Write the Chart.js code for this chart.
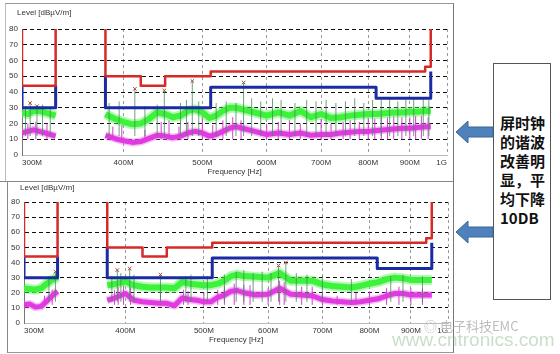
<!DOCTYPE html>
<html>
<head>
<meta charset="utf-8">
<script src="https://cdn.jsdelivr.net/npm/chart.js@4.4.1/dist/chart.umd.min.js"></script>
<style>
  body { margin: 0; background: #fff; width: 560px; height: 354px; position: relative; overflow: hidden;
         font-family: "Liberation Sans", Arial, sans-serif; }
  .abs { position: absolute; }
  .ylab { font-size: 8px; color: #333; white-space: nowrap; }
  .note { left: 500px; top: 113px; width: 50px; font: bold 15px/19px "Noto Sans CJK SC", sans-serif; color: #111; }
</style>
</head>
<body>
<div class="abs" style="left:5px;top:3px;width:447px;height:177px;border-top:1px solid #999;border-left:1px solid #bbb;border-right:1px solid #777;"></div>
<div class="abs" style="left:0;top:181px;width:453px;height:0;border-top:1px solid #888;"></div>
<div class="abs" style="left:7px;top:181px;width:445px;height:171px;border-left:1px solid #888;border-right:1px solid #777;border-bottom:1px solid #999;"></div>

<div class="abs" style="left:0;top:0;"><canvas id="topChart" width="453" height="180"></canvas></div>
<div class="abs" style="left:0;top:181px;"><canvas id="bottomChart" width="453" height="167"></canvas></div>

<div class="abs ylab" style="left:17px;top:8px;">Level [dBµV/m]</div>
<div class="abs ylab" style="left:20px;top:183px;">Level [dBµV/m]</div>

<div class="abs" style="left:493px;top:63px;width:56px;height:235px;border:1px solid #555;"></div>
<div class="abs note">屏时钟<br>的谐波<br>改善明<br>显，平<br>均下降<br>10DB</div>

<svg class="abs" style="left:0;top:0;" width="560" height="354">
  <polygon points="456,132 468,121 468,127 493,127 493,137 468,137 468,143" fill="#4f81bd" stroke="#3a6796" stroke-width="1"/>
  <polygon points="456,232 468,221 468,227 493,227 493,237 468,237 468,243" fill="#4f81bd" stroke="#3a6796" stroke-width="1"/>
</svg>

<div class="abs" style="left:424px;top:316px;font:13px 'Noto Sans CJK SC',sans-serif;color:#bdbdbd;">◎ 电子科技EMC</div>
<div class="abs" style="left:392px;top:329px;font:19px 'Liberation Sans',Arial,sans-serif;color:rgba(150,190,150,0.5);">www.cntronics.com</div>

<script>
// axis ticks (MHz)
const tickFreq = [300, 400, 500, 600, 700, 800, 900, 1000];
const tickLabels = ['300M', '400M', '500M', '600M', '700M', '800M', '900M', '1G'];

// limit lines, vertices (null breaks the line)
const redFreq  = [300, 300, 330, 330, 330, 380, 380, 420, 420, 450, 450, 512, 512, 940, 940, 955, 955];
const redLevel = [80, 44, 44, 80, null, 80, 50, 50, 44, 44, 50, 50, 53, 53, 56, 56, 80];
const blueFreq  = [300, 300, 330, 330, 330, 380, 380, 512, 512, 818, 818, 955, 955];
const blueLevel = [44, 30, 30, 44, null, 50, 30, 30, 43, 43, 36, 36, 53];

// measured traces
const traceFreq = [300, 305, 310, 315, 320, 325, 330, 355,
  380, 390, 400, 410, 420, 430, 440, 450, 460, 470, 480, 490, 500, 510, 520, 530, 540, 550, 560,
  580, 600, 620, 640, 660, 680, 700, 720, 740, 760, 780, 800, 820, 840, 860, 880, 900, 920, 940, 955];

const topGreen = [27, 26, 28, 28, 27, 26, 25, null,
  26, 23, 21, 19.5, 20, 23, 27, 26, 24, 25, 28, 29, 27, 23.5, 25, 28, 30, 30, 29,
  27, 25, 27, 25, 28, 24, 26, 23.5, 24, 25, 25.5, 26, 26, 26.5, 27, 27, 27.5, 27.5, 28, 28];
const topMagenta = [14, 15, 16, 15, 14, 13, 12, null,
  12.5, 10.5, 9, 8, 8.5, 10.5, 12.5, 12, 11, 12, 14, 15, 14, 12, 13, 15, 17, 18, 17,
  15, 13, 14, 13, 14, 12.5, 13, 13, 14, 14.5, 15, 15, 15.5, 16, 16.5, 17, 17, 17.5, 18, 18];

const botGreen = [23, 22.5, 22, 23, 26, 28.5, 30.5, null,
  25, 26, 27.5, 25, 24, 23.5, 23.5, 23.5, 23, 27, 26, 25.5, 25, 25, 26, 28, 31, 32, 31,
  30.5, 30, 33, 28, 28, 28, 25.5, 24.5, 24, 23.5, 24.5, 26, 27, 29, 30, 29.5, 28.5, 28.5, 28.5, 28.5];
const botMagenta = [12, 12.5, 10.5, 11, 14.5, 18, 21, null,
  15, 17, 19.5, 15, 14, 13.5, 13, 13, 11.5, 16.5, 15.5, 15, 14, 14, 17, 18.5, 21, 21.5, 20,
  18.5, 19, 23, 19, 18.5, 18, 15.5, 14.5, 14, 13.5, 14, 15, 16, 18, 19.5, 19.5, 18.5, 18.5, 18.5, 18.5];

// spikes and peak markers
const topSpikeFreq = [303, 307, 313, 318, 325, 384, 395, 413, 425, 440, 449, 470, 478, 486, 495, 520, 535, 550, 562,
  575, 590, 610, 625, 650, 672, 690, 710, 730, 750, 770, 790, 810, 830, 850, 870, 890, 910, 935, 950];
const topSpikeTop = [31, 33, 31, 32, 30, 33, 34, 42, 31, 32, 41, 33, 35, 47, 34, 33, 34, 33, 46,
  36, 34, 36, 35, 33, 35, 34, 35, 33, 34, 36, 33, 35, 35, 36, 34, 35, 36, 36, 35];
const topPinkSpikeFreq = [305, 312, 322, 388, 398, 425, 445, 455, 468, 480, 500, 515, 530, 545, 558, 600, 620, 640,
  660, 700, 720, 745, 760, 780, 800, 815, 830, 845, 860, 880, 900, 915, 930, 948];
const topPinkSpikeTop = [20, 21, 20, 18, 19, 16, 21, 22, 18, 21, 25, 19, 22, 24, 22, 20, 21, 22,
  20, 23, 20, 21, 22, 21, 24, 23, 25, 24, 25, 24, 24, 25, 25, 24];
const topMarkFreq = [307, 313, 413, 449, 486, 562];
const topMarkLevel = [33, 31, 42, 41, 47, 46];

const botSpikeFreq = [322, 328, 385, 391, 395, 405, 410, 442, 475, 482, 505, 530, 548, 560, 575, 590, 605, 618, 631,
  650, 670, 700, 760, 850, 880, 930];
const botSpikeTop = [31, 34, 31, 35, 33, 36, 32, 32, 31, 32, 31, 32, 34, 35, 33, 34, 33, 38, 40,
  33, 32, 31, 29, 31, 32, 31];
const botPinkSpikeFreq = [318, 325, 388, 392, 398, 406, 442, 472, 478, 500, 520, 530, 545, 560, 570, 600, 620, 628,
  660, 680, 700, 730, 770, 800, 840, 870, 900, 930];
const botPinkSpikeTop = [18, 22, 22, 24, 26, 25, 22, 22, 21, 20, 22, 24, 26, 25, 25, 23, 28, 27,
  24, 24, 20, 18, 20, 21, 23, 24, 23, 23];
const botMarkFreq = [328, 391, 405, 442, 618, 631];
const botMarkLevel = [34, 35, 36, 32, 38, 40];

function pts(xs, ys) {
  return xs.map((x, i) => ({ x: x, y: ys[i] }));
}

// each spike is a vertical segment; a null point separates them
function spikes(xs, tops, base) {
  const out = [];
  xs.forEach((x, i) => {
    out.push({ x: x, y: base }, { x: x, y: tops[i] }, { x: x, y: null });
  });
  return out;
}

function makeChart(id, cfg) {
  const line = (data, color, width, extra) => Object.assign({
    data: data, borderColor: color, borderWidth: width, pointRadius: 0,
    tension: 0, fill: false, spanGaps: false, borderJoinStyle: 'round'
  }, extra || {});

  return new Chart(document.getElementById(id), {
    type: 'line',
    data: {
      datasets: [
        line(pts(redFreq, redLevel), '#d62a26', 2.5),
        line(pts(blueFreq, blueLevel), '#1b2ca3', 3),
        {
          type: 'scatter', data: pts(cfg.markFreq, cfg.markLevel),
          pointStyle: 'crossRot', pointRadius: 2.5, borderColor: '#a04a3a', borderWidth: 1
        },
        line(spikes(cfg.spikeFreq, cfg.spikeTop, cfg.spikeBase), 'rgba(70,140,90,0.8)', 1),
        line(pts(traceFreq, cfg.green), '#3df23a', 6),
        // softer halo gives the band its noisy edge
        line(pts(traceFreq, cfg.green), 'rgba(90,240,90,0.45)', 10),
        line(spikes(cfg.pinkFreq, cfg.pinkTop, cfg.pinkBase), '#d23ed2', 1),
        line(pts(traceFreq, cfg.magenta), '#e03ae0', 5),
        line(pts(traceFreq, cfg.magenta), 'rgba(235,110,235,0.45)', 8)
      ]
    },
    options: {
      responsive: false,
      animation: false,
      layout: { padding: { top: cfg.top, right: cfg.right, left: 0, bottom: 0 } },
      plugins: { legend: { display: false }, tooltip: { enabled: false } },
      scales: {
        x: {
          type: 'logarithmic',
          min: 300,
          max: 1000,
          afterBuildTicks: function(s) { s.ticks = tickFreq.map(v => ({ value: v })); },
          afterFit: function(s) { s.height = 25; },
          ticks: {
            align: 'inner', padding: 3, maxRotation: 0, autoSkip: false,
            color: '#333', font: { size: 8, family: 'Liberation Sans' },
            callback: function(v, i) { return tickLabels[i]; }
          },
          grid: { color: '#9a9a9a', drawTicks: false },
          border: { color: '#bbb', dash: [3, 3] },
          title: {
            display: true, text: 'Frequency [Hz]', color: '#333',
            font: { size: 8, family: 'Liberation Sans' }, padding: { top: 0, bottom: 3 }
          }
        },
        y: {
          min: 0,
          max: 80,
          afterFit: function(s) { s.width = cfg.left; },
          ticks: { stepSize: 10, padding: 4, color: '#333', font: { size: 8, family: 'Liberation Sans' } },
          grid: { color: '#111', drawTicks: false },
          border: { color: '#777', dash: [4, 3] }
        }
      }
    }
  });
}

makeChart('topChart', {
  top: 29, right: 6, left: 22,
  green: topGreen, magenta: topMagenta,
  spikeFreq: topSpikeFreq, spikeTop: topSpikeTop, spikeBase: 12,
  pinkFreq: topPinkSpikeFreq, pinkTop: topPinkSpikeTop, pinkBase: 10,
  markFreq: topMarkFreq, markLevel: topMarkLevel
});

makeChart('bottomChart', {
  top: 21, right: 5, left: 24,
  green: botGreen, magenta: botMagenta,
  spikeFreq: botSpikeFreq, spikeTop: botSpikeTop, spikeBase: 14,
  pinkFreq: botPinkSpikeFreq, pinkTop: botPinkSpikeTop, pinkBase: 12,
  markFreq: botMarkFreq, markLevel: botMarkLevel
});
</script>
</body>
</html>
